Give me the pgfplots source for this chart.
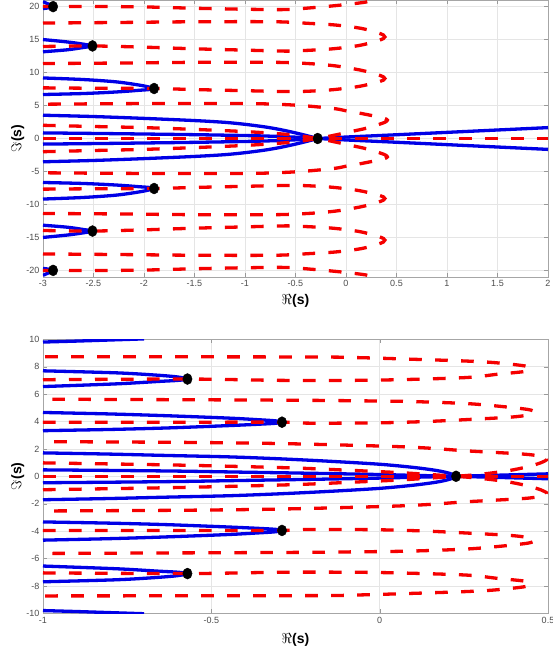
\documentclass[border=0pt]{standalone}
\usepackage{fontspec}
\setmainfont{Liberation Sans}
\usepackage{pgfplots}
\pgfplotsset{compat=1.18}
\definecolor{locblue}{RGB}{0,0,230}
\definecolor{locred}{RGB}{245,0,0}

\pgfplotsset{
  rootaxis/.style={
    scale only axis, width=505pt,
    axis line style={black!35},
    grid=major, major grid style={black!10, line width=0.5pt},
    tick style={black!40}, major tick length=4pt, tick align=inside,
    ticklabel style={font=\fontsize{9}{10}\selectfont, text=black!70},
    /pgf/number format/assume math mode=true,
    xlabel={$\Re$(s)}, ylabel={$\Im$(s)},
    label style={font=\fontsize{14}{14}\selectfont\bfseries},
  },
  bl/.style={color=locblue, line width=3.3pt, smooth, no markers},
  rd/.style={color=locred, line width=3.3pt, dash pattern=on 12.7pt off 13.3pt, smooth, no markers},
  rt/.style={only marks, mark=*, mark size=5.5pt, black, mark options={xscale=0.85}},
}

\begin{document}
\begin{tikzpicture}
\path[use as bounding box] (-43pt,0pt) rectangle (509pt,-656pt);

% ---------------- top panel ----------------
\begin{axis}[rootaxis, at={(0pt,0pt)}, anchor=north west, height=277pt,
    xmin=-3, xmax=2, ymin=-21, ymax=21,
    xtick={-3,-2.5,-2,-1.5,-1,-0.5,0,0.5,1,1.5,2},
    xticklabels={-3,-2.5,-2,-1.5,-1,-0.5,0,0.5,1,1.5,2},
    ytick={-20,-15,-10,-5,0,5,10,15,20},
    yticklabels={-20,-15,-10,-5,0,5,10,15,20},
    xlabel style={at={(axis description cs:0.5,-0.087)}, anchor=center},
    ylabel style={at={(axis description cs:-0.05,0.5)}, anchor=center},
  ]
  % blue: Re = 0
  \addplot[bl] coordinates {(-3,3.53)(-2.5,3.33)(-2,3.05)(-1.5,2.72)(-1.2,2.45)(-1,2.15)(-0.8,1.75)(-0.65,1.35)(-0.5,0.85)(-0.4,0.48)(-0.28,0)};
  \addplot[bl] coordinates {(-3,-3.53)(-2.5,-3.33)(-2,-3.05)(-1.5,-2.72)(-1.2,-2.45)(-1,-2.15)(-0.8,-1.75)(-0.65,-1.35)(-0.5,-0.85)(-0.4,-0.48)(-0.28,0)};
  \addplot[bl] coordinates {(-3,0.85)(-2.5,0.77)(-2,0.68)(-1.5,0.58)(-1,0.45)(-0.7,0.33)(-0.5,0.2)(-0.28,0)};
  \addplot[bl] coordinates {(-3,-0.85)(-2.5,-0.77)(-2,-0.68)(-1.5,-0.58)(-1,-0.45)(-0.7,-0.33)(-0.5,-0.2)(-0.28,0)};
  \addplot[bl] coordinates {(-0.28,0)(0,0.22)(0.5,0.57)(1,0.93)(1.5,1.29)(2,1.65)};
  \addplot[bl] coordinates {(-0.28,0)(0,-0.22)(0.5,-0.57)(1,-0.93)(1.5,-1.29)(2,-1.65)};
  \addplot[bl] coordinates {(-3,9.18)(-2.6,8.94)(-2.27,8.58)(-2.04,8.08)(-1.95,7.8)(-1.9,7.58)(-1.95,7.42)(-2.04,7.32)(-2.27,7.06)(-2.6,6.82)(-3,6.67)};
  \addplot[bl] coordinates {(-3,-9.18)(-2.6,-8.94)(-2.27,-8.58)(-2.04,-8.08)(-1.95,-7.8)(-1.9,-7.58)(-1.95,-7.42)(-2.04,-7.32)(-2.27,-7.06)(-2.6,-6.82)(-3,-6.67)};
  \addplot[bl] coordinates {(-3,15.0)(-2.76,14.64)(-2.6,14.3)(-2.51,14.03)(-2.6,13.8)(-2.76,13.45)(-3,13.15)};
  \addplot[bl] coordinates {(-3,-15.0)(-2.76,-14.64)(-2.6,-14.3)(-2.51,-14.03)(-2.6,-13.8)(-2.76,-13.45)(-3,-13.15)};
  \addplot[bl] coordinates {(-3,20.75)(-2.95,20.4)(-2.9,20.0)(-2.95,19.8)(-3,19.7)};
  \addplot[bl] coordinates {(-3,-20.75)(-2.95,-20.4)(-2.9,-20.0)(-2.95,-19.8)(-3,-19.7)};
  % red: Im = 0
  \addplot[rd] coordinates {(-3,0)(2,0)};
  \addplot[rd] coordinates {(-3,2.0)(-2.5,1.82)(-2,1.65)(-1.5,1.38)(-1,1.05)(-0.7,0.76)(-0.5,0.5)(-0.28,0)(-0.1,-0.55)(0.05,-1.05)(0.2,-1.55)(0.32,-2.1)(0.39,-2.5)(0.41,-2.8)(0.39,-3.0)(0.35,-3.2)(0.25,-3.5)(0.15,-3.8)(0,-4.2)(-0.1,-4.5)(-0.36,-4.9)(-0.62,-5.15)(-1,-5.3)(-2,-5.3)(-3,-5.2)};
  \addplot[rd] coordinates {(-3,-2.0)(-2.5,-1.82)(-2,-1.65)(-1.5,-1.38)(-1,-1.05)(-0.7,-0.76)(-0.5,-0.5)(-0.28,0)(-0.1,0.55)(0.05,1.05)(0.2,1.55)(0.32,2.1)(0.39,2.5)(0.41,2.8)(0.39,3.0)(0.35,3.2)(0.25,3.5)(0.15,3.8)(0,4.2)(-0.1,4.5)(-0.36,4.9)(-0.62,5.15)(-1,5.3)(-2,5.3)(-3,5.2)};
  \addplot[rd] coordinates {(-3,7.68)(-2.5,7.62)(-1.9,7.58)(-1.5,7.42)(-1,7.25)(-0.6,7.12)(-0.4,7.15)(-0.13,7.4)(0.13,7.9)(0.3,8.5)(0.37,8.85)(0.385,9.1)(0.37,9.35)(0.3,9.75)(0.15,10.35)(-0.1,11.0)(-0.36,11.35)(-0.7,11.55)(-1.5,11.55)(-2.2,11.45)(-3,11.36)};
  \addplot[rd] coordinates {(-3,-7.68)(-2.5,-7.62)(-1.9,-7.58)(-1.5,-7.42)(-1,-7.25)(-0.6,-7.12)(-0.4,-7.15)(-0.13,-7.4)(0.13,-7.9)(0.3,-8.5)(0.37,-8.85)(0.385,-9.1)(0.37,-9.35)(0.3,-9.75)(0.15,-10.35)(-0.1,-11.0)(-0.36,-11.35)(-0.7,-11.55)(-1.5,-11.55)(-2.2,-11.45)(-3,-11.36)};
  \addplot[rd] coordinates {(-3,13.95)(-2.51,14.03)(-2,13.85)(-1.5,13.6)(-1,13.4)(-0.6,13.25)(-0.4,13.35)(-0.13,13.6)(0.13,14.1)(0.3,14.75)(0.37,15.15)(0.385,15.4)(0.37,15.7)(0.3,16.1)(0.15,16.7)(-0.1,17.2)(-0.36,17.45)(-0.7,17.7)(-1.5,17.7)(-2.2,17.6)(-3,17.5)};
  \addplot[rd] coordinates {(-3,-13.95)(-2.51,-14.03)(-2,-13.85)(-1.5,-13.6)(-1,-13.4)(-0.6,-13.25)(-0.4,-13.35)(-0.13,-13.6)(0.13,-14.1)(0.3,-14.75)(0.37,-15.15)(0.385,-15.4)(0.37,-15.7)(0.3,-16.1)(0.15,-16.7)(-0.1,-17.2)(-0.36,-17.45)(-0.7,-17.7)(-1.5,-17.7)(-2.2,-17.6)(-3,-17.5)};
  \addplot[rd] coordinates {(-3,20.0)(-2.5,20.02)(-2,19.95)(-1.5,19.75)(-1,19.6)(-0.6,19.55)(-0.36,19.8)(-0.07,20.2)(0.2,20.7)(0.32,21.3)};
  \addplot[rd] coordinates {(-3,-20.0)(-2.5,-20.02)(-2,-19.95)(-1.5,-19.75)(-1,-19.6)(-0.6,-19.55)(-0.36,-19.8)(-0.07,-20.2)(0.2,-20.7)(0.32,-21.3)};
  % roots
  \addplot[rt] coordinates {(-0.28,0)(-1.9,7.58)(-1.9,-7.58)(-2.51,14.03)(-2.51,-14.03)(-2.9,20.0)(-2.9,-20.0)};
\end{axis}

% ---------------- bottom panel ----------------
\begin{axis}[rootaxis, at={(0pt,-339.3pt)}, anchor=north west, height=274pt,
    xmin=-1, xmax=0.5, ymin=-10, ymax=10,
    xtick={-1,-0.5,0,0.5},
    xticklabels={-1,-0.5,0,0.5},
    ytick={-10,-8,-6,-4,-2,0,2,4,6,8,10},
    yticklabels={-10,-8,-6,-4,-2,0,2,4,6,8,10},
    xlabel style={at={(axis description cs:0.5,-0.097)}, anchor=center},
    ylabel style={at={(axis description cs:-0.05,0.5)}, anchor=center},
  ]
  % blue: Re = 0
  \addplot[bl] coordinates {(-1,1.71)(-0.8,1.62)(-0.63,1.52)(-0.45,1.42)(-0.3,1.28)(-0.15,1.1)(0,0.88)(0.1,0.65)(0.17,0.42)(0.21,0.2)(0.227,0)};
  \addplot[bl] coordinates {(-1,-1.71)(-0.8,-1.62)(-0.63,-1.52)(-0.45,-1.42)(-0.3,-1.28)(-0.15,-1.1)(0,-0.88)(0.1,-0.65)(0.17,-0.42)(0.21,-0.2)(0.227,0)};
  \addplot[bl] coordinates {(-1,0.47)(-0.8,0.43)(-0.6,0.38)(-0.4,0.3)(-0.2,0.22)(0,0.13)(0.1,0.07)(0.227,0)};
  \addplot[bl] coordinates {(-1,-0.47)(-0.8,-0.43)(-0.6,-0.38)(-0.4,-0.3)(-0.2,-0.22)(0,-0.13)(0.1,-0.07)(0.227,0)};
  \addplot[bl] coordinates {(0.227,0)(0.35,0.08)(0.5,0.18)};
  \addplot[bl] coordinates {(0.227,0)(0.35,-0.08)(0.5,-0.18)};
  \addplot[bl] coordinates {(-1,4.66)(-0.8,4.55)(-0.63,4.42)(-0.45,4.25)(-0.36,4.13)(-0.31,4.05)(-0.29,3.95)(-0.31,3.87)(-0.36,3.8)(-0.45,3.7)(-0.63,3.53)(-0.8,3.42)(-1,3.33)};
  \addplot[bl] coordinates {(-1,-4.66)(-0.8,-4.55)(-0.63,-4.42)(-0.45,-4.25)(-0.36,-4.13)(-0.31,-4.05)(-0.29,-3.95)(-0.31,-3.87)(-0.36,-3.8)(-0.45,-3.7)(-0.63,-3.53)(-0.8,-3.42)(-1,-3.33)};
  \addplot[bl] coordinates {(-1,7.7)(-0.78,7.55)(-0.66,7.38)(-0.6,7.25)(-0.571,7.1)(-0.6,7.0)(-0.66,6.92)(-0.78,6.75)(-1,6.55)};
  \addplot[bl] coordinates {(-1,-7.7)(-0.78,-7.55)(-0.66,-7.38)(-0.6,-7.25)(-0.571,-7.1)(-0.6,-7.0)(-0.66,-6.92)(-0.78,-6.75)(-1,-6.55)};
  \addplot[bl] coordinates {(-1,9.8)(-0.9,9.87)(-0.8,9.95)(-0.7,10.03)};
  \addplot[bl] coordinates {(-1,-9.8)(-0.9,-9.87)(-0.8,-9.95)(-0.7,-10.03)};
  % red: Im = 0
  \addplot[rd] coordinates {(-1,0)(0.5,0)};
  \addplot[rd] coordinates {(-1,0.98)(-0.6,0.82)(-0.27,0.62)(-0.1,0.45)(0.05,0.28)(0.15,0.13)(0.227,0)(0.3,-0.15)(0.38,-0.4)(0.44,-0.7)(0.48,-1.0)(0.497,-1.25)(0.48,-1.45)(0.45,-1.57)(0.41,-1.65)(0.33,-1.76)(0.25,-1.87)(0.15,-2.05)(0.05,-2.17)(-0.15,-2.31)(-0.34,-2.41)(-0.6,-2.48)(-1,-2.53)};
  \addplot[rd] coordinates {(-1,-0.98)(-0.6,-0.82)(-0.27,-0.62)(-0.1,-0.45)(0.05,-0.28)(0.15,-0.13)(0.227,0)(0.3,0.15)(0.38,0.4)(0.44,0.7)(0.48,1.0)(0.497,1.25)(0.48,1.45)(0.45,1.57)(0.41,1.65)(0.33,1.76)(0.25,1.87)(0.15,2.05)(0.05,2.17)(-0.15,2.31)(-0.34,2.41)(-0.6,2.48)(-1,2.53)};
  \addplot[rd] coordinates {(-1,3.95)(-0.6,3.95)(-0.29,3.95)(-0.21,3.88)(-0.01,3.9)(0.14,4.0)(0.29,4.18)(0.39,4.32)(0.44,4.47)(0.458,4.68)(0.44,4.88)(0.34,5.15)(0.25,5.32)(0.09,5.46)(-0.06,5.51)(-0.3,5.56)(-1,5.63)};
  \addplot[rd] coordinates {(-1,-3.95)(-0.6,-3.95)(-0.29,-3.95)(-0.21,-3.88)(-0.01,-3.9)(0.14,-4.0)(0.29,-4.18)(0.39,-4.32)(0.44,-4.47)(0.458,-4.68)(0.44,-4.88)(0.34,-5.15)(0.25,-5.32)(0.09,-5.46)(-0.06,-5.51)(-0.3,-5.56)(-1,-5.63)};
  \addplot[rd] coordinates {(-1,7.05)(-0.571,7.1)(-0.28,7.0)(-0.01,7.02)(0.25,7.2)(0.35,7.45)(0.43,7.65)(0.447,7.85)(0.43,8.06)(0.34,8.3)(0.25,8.42)(0.09,8.55)(-0.06,8.66)(-0.21,8.71)(-1,8.73)};
  \addplot[rd] coordinates {(-1,-7.05)(-0.571,-7.1)(-0.28,-7.0)(-0.01,-7.02)(0.25,-7.2)(0.35,-7.45)(0.43,-7.65)(0.447,-7.85)(0.43,-8.06)(0.34,-8.3)(0.25,-8.42)(0.09,-8.55)(-0.06,-8.66)(-0.21,-8.71)(-1,-8.73)};
  % roots
  \addplot[rt] coordinates {(0.227,0)(-0.29,3.95)(-0.29,-3.95)(-0.571,7.1)(-0.571,-7.1)};
\end{axis}
\end{tikzpicture}
\end{document}
